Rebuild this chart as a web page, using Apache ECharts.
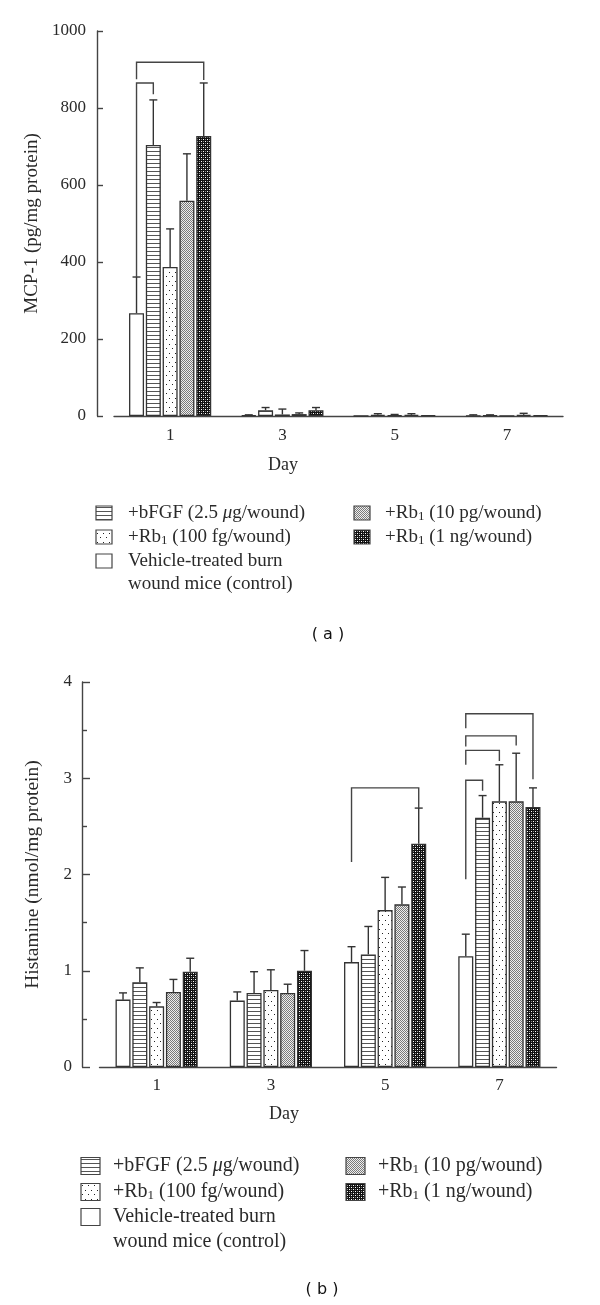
<!DOCTYPE html>
<html>
<head>
<meta charset="utf-8">
<script src="https://cdn.jsdelivr.net/npm/echarts@6/dist/echarts.min.js"></script>
<style>
  html, body { margin: 0; padding: 0; background: #fff; }
  #chart { width: 600px; height: 1305px; }
</style>
</head>
<body>
<div id="chart"></div>
<script>
// ---------------- DATA ----------------
const days = ['1', '3', '5', '7'];
const seriesNames = [
  'Vehicle-treated burn wound mice (control)',
  '+bFGF (2.5 μg/wound)',
  '+Rb1 (100 fg/wound)',
  '+Rb1 (10 pg/wound)',
  '+Rb1 (1 ng/wound)'
];
// legend label texts (rich markup: {s|..} subscript, {i|..} italic)
const legendLabels = [
  'Vehicle-treated burn\nwound mice (control)',
  '+bFGF (2.5 {i|μ}g/wound)',
  '+Rb{s|1} (100 fg/wound)',
  '+Rb{s|1} (10 pg/wound)',
  '+Rb{s|1} (1 ng/wound)'
];
const panelLabels = ['( a )', '( b )'];
const yNameA = 'MCP-1 (pg/mg protein)';
const yNameB = 'Histamine (nmol/mg protein)';
const xName = 'Day';

// Panel (a): MCP-1, mean and SD per day
const mcpControl    = [267, 2, 0, 1];
const mcpControlSd  = [94, 1, 0, 2];
const mcpBfgf       = [704, 15, 3, 2];
const mcpBfgfSd     = [117, 7, 3, 1];
const mcpRb100fg    = [387, 4, 2, 0];
const mcpRb100fgSd  = [99, 14, 2, 0];
const mcpRb10pg     = [559, 5, 3, 3];
const mcpRb10pgSd   = [122, 3, 3, 4];
const mcpRb1ng      = [727, 15, 2, 2];
const mcpRb1ngSd    = [138, 7, 0, 0];
const mcpTicks = [0, 200, 400, 600, 800, 1000];

// Panel (b): Histamine, mean and SD per day
const hisControl    = [0.70, 0.69, 1.09, 1.15];
const hisControlSd  = [0.07, 0.09, 0.16, 0.23];
const hisBfgf       = [0.88, 0.77, 1.17, 2.59];
const hisBfgfSd     = [0.15, 0.22, 0.29, 0.23];
const hisRb100fg    = [0.63, 0.80, 1.63, 2.76];
const hisRb100fgSd  = [0.04, 0.21, 0.34, 0.38];
const hisRb10pg     = [0.78, 0.77, 1.69, 2.76];
const hisRb10pgSd   = [0.13, 0.09, 0.18, 0.50];
const hisRb1ng      = [0.99, 1.00, 2.32, 2.70];
const hisRb1ngSd    = [0.14, 0.21, 0.37, 0.20];
const hisTicks = [0, 1, 2, 3, 4];

// Significance brackets: [dayIndex, fromBar, toBar, topValue, leftLegBottom, rightLegBottom]
const mcpBrackets = [
  [0, 0, 4, 919, 875, 873],
  [0, 0, 1, 865, 361, 836]
];
const hisBrackets = [
  [2, 0, 4, 2.90, 2.13, 2.69],
  [3, 0, 4, 3.67, 3.52, 2.99],
  [3, 0, 3, 3.44, 3.33, 3.34],
  [3, 0, 2, 3.29, 3.14, 3.18],
  [3, 0, 1, 2.98, 1.95, 2.87]
];

// ---------------- STYLE ----------------
const SERIF = '"Liberation Serif", "DejaVu Serif", serif';
const INK = '#2a2a2a';
const LINE = '#444';
const BAR_W = 15;
const BAR_GAP = 0.12;

function makePattern(kind) {
  const c = document.createElement('canvas');
  const ctx = c.getContext('2d');
  if (kind === 'none') {
    c.width = 4; c.height = 4;
    ctx.fillStyle = '#fff'; ctx.fillRect(0, 0, 4, 4);
  } else if (kind === 'hlines') {
    c.width = 4; c.height = 4;
    ctx.fillStyle = '#fff'; ctx.fillRect(0, 0, 4, 4);
    ctx.fillStyle = '#555'; ctx.fillRect(0, 3, 4, 1);
  } else if (kind === 'dots') {
    c.width = 6; c.height = 9;
    ctx.fillStyle = '#fff'; ctx.fillRect(0, 0, 6, 9);
    ctx.fillStyle = '#222';
    ctx.fillRect(1, 2, 1, 1); ctx.fillRect(4, 6, 1, 1);
  } else if (kind === 'fine') {
    c.width = 2; c.height = 2;
    ctx.fillStyle = '#eeeeee'; ctx.fillRect(0, 0, 2, 2);
    ctx.fillStyle = '#7a7a7a'; ctx.fillRect(0, 0, 1, 1); ctx.fillRect(1, 1, 1, 1);
  } else if (kind === 'dark') {
    c.width = 4; c.height = 4;
    ctx.fillStyle = '#111'; ctx.fillRect(0, 0, 4, 4);
    ctx.fillStyle = '#fff';
    ctx.fillRect(1, 1, 1, 1); ctx.fillRect(3, 3, 1, 1);
    ctx.fillStyle = '#888';
    ctx.fillRect(1, 3, 1, 1); ctx.fillRect(3, 1, 1, 1);
  }
  return { image: c, repeat: 'repeat' };
}
const patterns = ['none', 'hlines', 'dots', 'fine', 'dark'].map(makePattern);

const panelA = {
  means: [mcpControl, mcpBfgf, mcpRb100fg, mcpRb10pg, mcpRb1ng],
  sds: [mcpControlSd, mcpBfgfSd, mcpRb100fgSd, mcpRb10pgSd, mcpRb1ngSd],
  brackets: mcpBrackets
};
const panelB = {
  means: [hisControl, hisBfgf, hisRb100fg, hisRb10pg, hisRb1ng],
  sds: [hisControlSd, hisBfgfSd, hisRb100fgSd, hisRb10pgSd, hisRb1ngSd],
  brackets: hisBrackets
};

function barOffset(i) { return (i - 2) * BAR_W * (1 + BAR_GAP); }

function buildSeries(panel, axisIdx) {
  const out = [];
  panel.means.forEach((arr, i) => {
    out.push({
      type: 'bar',
      name: seriesNames[i],
      xAxisIndex: axisIdx, yAxisIndex: axisIdx,
      data: arr,
      barWidth: BAR_W,
      barGap: (BAR_GAP * 100) + '%',
      itemStyle: { color: patterns[i], borderColor: '#333', borderWidth: 1.3 },
      emphasis: { disabled: true },
      z: 2
    });
  });
  panel.means.forEach((arr, i) => {
    const sd = panel.sds[i];
    out.push({
      type: 'custom',
      xAxisIndex: axisIdx, yAxisIndex: axisIdx,
      data: arr.map((m, d) => [d, m, sd[d]]),
      encode: { x: 0, y: 1 },
      silent: true,
      z: 4,
      renderItem: function (params, api) {
        const s = api.value(2);
        if (!s) return null;
        const base = api.coord([api.value(0), api.value(1)]);
        const top = api.coord([api.value(0), api.value(1) + s]);
        const x = base[0] + barOffset(i);
        const st = { stroke: '#333', lineWidth: 1.4 };
        return {
          type: 'group',
          children: [
            { type: 'line', shape: { x1: x, y1: base[1], x2: x, y2: top[1] }, style: st },
            { type: 'line', shape: { x1: x - 4, y1: top[1], x2: x + 4, y2: top[1] }, style: st }
          ]
        };
      }
    });
  });
  out.push({
    type: 'custom',
    xAxisIndex: axisIdx, yAxisIndex: axisIdx,
    data: panel.brackets,
    encode: { x: 0, y: 3 },
    silent: true,
    z: 4,
    renderItem: function (params, api) {
      const d = api.value(0);
      const xl = api.coord([d, 0])[0] + barOffset(api.value(1));
      const xr = api.coord([d, 0])[0] + barOffset(api.value(2));
      const yt = api.coord([d, api.value(3)])[1];
      const yl = api.coord([d, api.value(4)])[1];
      const yr = api.coord([d, api.value(5)])[1];
      return {
        type: 'polyline',
        shape: { points: [[xl, yl], [xl, yt], [xr, yt], [xr, yr]] },
        style: { stroke: LINE, lineWidth: 1.4, fill: null }
      };
    }
  });
  return out;
}

function legendGraphics(cfg) {
  const els = [];
  const richStyle = {
    s: { fontSize: 13, fontFamily: SERIF, fill: INK, padding: [7, 0, 0, 0] },
    i: { fontSize: cfg.fontSize, fontFamily: SERIF, fontStyle: 'italic', fill: INK }
  };
  cfg.items.forEach(it => {
    els.push({
      type: 'rect',
      shape: { x: it.sx, y: it.cy - cfg.sh / 2, width: cfg.sw, height: cfg.sh },
      style: { fill: patterns[it.idx], stroke: '#444', lineWidth: 1.2 }
    });
    const multi = legendLabels[it.idx].indexOf('\n') >= 0;
    els.push({
      type: 'text',
      x: it.tx,
      y: multi ? it.cy - cfg.lh / 2 : it.cy,
      style: {
        text: legendLabels[it.idx],
        fontSize: cfg.fontSize,
        fontFamily: SERIF,
        fill: INK,
        lineHeight: cfg.lh,
        verticalAlign: multi ? 'top' : 'middle',
        rich: richStyle
      }
    });
  });
  return els;
}

const legendA = legendGraphics({
  fontSize: 19, lh: 23, sw: 16, sh: 14,
  items: [
    { idx: 1, sx: 96, cy: 513, tx: 128 },
    { idx: 2, sx: 96, cy: 537, tx: 128 },
    { idx: 0, sx: 96, cy: 561, tx: 128 },
    { idx: 3, sx: 354, cy: 513, tx: 385 },
    { idx: 4, sx: 354, cy: 537, tx: 385 }
  ]
});
const legendB = legendGraphics({
  fontSize: 20, lh: 25, sw: 19, sh: 17,
  items: [
    { idx: 1, sx: 81, cy: 1166, tx: 113 },
    { idx: 2, sx: 81, cy: 1192, tx: 113 },
    { idx: 0, sx: 81, cy: 1217, tx: 113 },
    { idx: 3, sx: 346, cy: 1166, tx: 378 },
    { idx: 4, sx: 346, cy: 1192, tx: 378 }
  ]
});

const chart = echarts.init(document.getElementById('chart'), null, { renderer: 'canvas' });

function xAxisCfg(grid, namePadRight, nameGap, labelMargin) {
  return {
    type: 'category', gridIndex: grid, data: days,
    axisLine: { show: true, lineStyle: { color: LINE, width: 1.4 } },
    axisTick: { show: false },
    axisLabel: { margin: labelMargin, fontFamily: SERIF, fontSize: 17, color: INK },
    splitLine: { show: false },
    name: xName, nameLocation: 'middle', nameGap: nameGap,
    nameTextStyle: { fontFamily: SERIF, fontSize: 18, color: INK, padding: [0, namePadRight, 0, 0] }
  };
}

const plainNum = v => String(v);

const option = {
  animation: false,
  backgroundColor: '#fff',
  grid: [
    { left: 114, top: 31, width: 449, height: 385 },
    { left: 99.5, top: 682, width: 457, height: 385 }
  ],
  xAxis: [
    xAxisCfg(0, 111, 40, 11),
    xAxisCfg(1, 88, 38, 10)
  ],
  yAxis: [
    {
      type: 'value', gridIndex: 0, min: mcpTicks[0], max: mcpTicks[mcpTicks.length - 1],
      interval: mcpTicks[1] - mcpTicks[0], offset: 17,
      axisLine: { show: true, lineStyle: { color: LINE, width: 1.4 } },
      axisTick: { show: true, inside: true, length: 6, lineStyle: { color: LINE, width: 1.4 } },
      axisLabel: { margin: 11, fontFamily: SERIF, fontSize: 17, color: INK, formatter: plainNum },
      splitLine: { show: false },
      name: yNameA, nameLocation: 'middle', nameGap: 49,
      nameTextStyle: { fontFamily: SERIF, fontSize: 19, color: INK }
    },
    {
      type: 'value', gridIndex: 1, min: hisTicks[0], max: hisTicks[hisTicks.length - 1],
      interval: hisTicks[1] - hisTicks[0], offset: 17.5,
      axisLine: { show: true, lineStyle: { color: LINE, width: 1.4 } },
      axisTick: { show: true, inside: true, length: 8, lineStyle: { color: LINE, width: 1.4 } },
      minorTick: { show: true, splitNumber: 2, length: 5, lineStyle: { color: LINE, width: 1.4 } },
      axisLabel: { margin: 10, fontFamily: SERIF, fontSize: 17, color: INK, formatter: plainNum },
      splitLine: { show: false },
      minorSplitLine: { show: false },
      name: yNameB, nameLocation: 'middle', nameGap: 39,
      nameTextStyle: { fontFamily: SERIF, fontSize: 19.5, color: INK }
    }
  ],
  series: buildSeries(panelA, 0).concat(buildSeries(panelB, 1)),
  graphic: legendA.concat(legendB).concat([
    { type: 'text', x: 328, y: 635, style: { text: panelLabels[0], fontSize: 16, fontFamily: '"DejaVu Sans", sans-serif', fill: '#111', align: 'center', verticalAlign: 'middle' } },
    { type: 'text', x: 322, y: 1290, style: { text: panelLabels[1], fontSize: 16, fontFamily: '"DejaVu Sans", sans-serif', fill: '#111', align: 'center', verticalAlign: 'middle' } }
  ])
};
chart.setOption(option);
</script>
</body>
</html>
